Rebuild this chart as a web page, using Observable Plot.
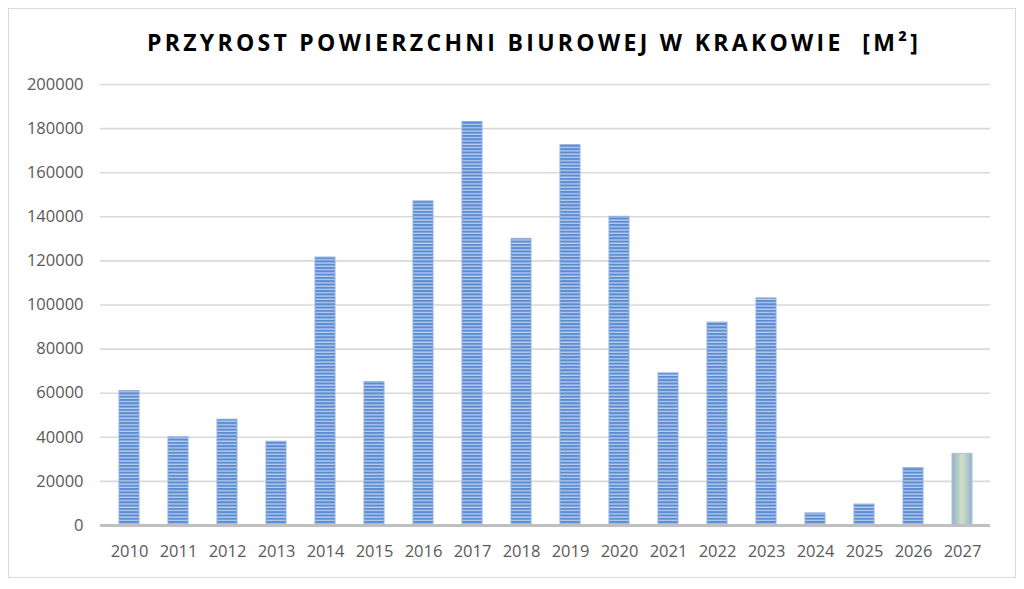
<!DOCTYPE html>
<html><head><meta charset="utf-8">
<script src="https://cdn.jsdelivr.net/npm/d3@7"></script>
<script src="https://cdn.jsdelivr.net/npm/@observablehq/plot@0.6"></script>
<style>
body{margin:0;background:#fff;font-family:"Open Sans",sans-serif;}
#frame{position:absolute;left:8px;top:8px;width:1006px;height:568px;border:1px solid #d9d9d9;}
#title{height:60px;text-align:center;font-weight:bold;font-size:23px;letter-spacing:3.3px;white-space:pre;line-height:66px;color:#000;padding-left:44px;}
</style></head>
<body><div id="frame"><div id="title">PRZYROST POWIERZCHNI BIUROWEJ W KRAKOWIE  [M²]</div><div id="chart"></div></div>
<script>
const years = ["2010","2011","2012","2013","2014","2015","2016","2017","2018","2019","2020","2021","2022","2023","2024","2025","2026","2027"];
const values = [61000,40000,48000,38000,121500,65000,147000,183000,130000,172500,140000,69000,92000,103000,5500,9500,26000,32500];
const forecastYears = ["2027"];
const yTicks = [0,20000,40000,60000,80000,100000,120000,140000,160000,180000,200000];

const data = years.map((y,i)=>({year:y, value:values[i], forecast:forecastYears.includes(y)}));

const chart = Plot.plot({
  width:1006, height:500,
  marginTop:15, marginBottom:44, marginLeft:91, marginRight:25,
  style:{fontFamily:"Open Sans", fontSize:"16.5px", color:"#595959", background:"transparent"},
  x:{domain:years, paddingInner:0.6, paddingOuter:0.3, label:null, tickSize:0, tickPadding:20},
  y:{domain:[0,200000], ticks:yTicks, label:null, tickSize:0, tickPadding:17, tickFormat:d=>String(d)},
  marks:[
    Plot.gridY(yTicks.filter(d=>d>0), {stroke:"#d9d9d9", strokeOpacity:1, strokeWidth:1.6}),
    Plot.barY(data.filter(d=>!d.forecast), {x:"year", y:"value", fill:"url(#stripes)", stroke:"#8eb0e0", strokeWidth:1}),
    Plot.barY(data.filter(d=>d.forecast), {x:"year", y:"value", fill:"url(#forecastGrad)", stroke:"#a9c2d6", strokeWidth:1}),
    Plot.ruleY([0], {stroke:"#bfbfbf", strokeWidth:3}),
    Plot.axisX({tickSize:0, tickPadding:20, fill:"#595959"}),
    Plot.axisY({ticks:yTicks, tickSize:0, tickPadding:17, tickFormat:d=>String(d), fill:"#595959"})
  ]
});
const ns = "http://www.w3.org/2000/svg";
const defs = document.createElementNS(ns,"defs");
defs.innerHTML = `
<pattern id="stripes" patternUnits="userSpaceOnUse" width="4" height="3.3">
  <rect width="4" height="3.3" fill="#b8cff0"/>
  <rect width="4" height="2" fill="#5a8ad0"/>
</pattern>
<linearGradient id="forecastGrad" x1="0" x2="1" y1="0" y2="0">
  <stop offset="0" stop-color="#93b3cc"/>
  <stop offset="0.5" stop-color="#cfe0c4"/>
  <stop offset="1" stop-color="#93b3cc"/>
</linearGradient>`;
chart.insertBefore(defs, chart.firstChild);
document.getElementById("chart").appendChild(chart);
</script></body></html>
